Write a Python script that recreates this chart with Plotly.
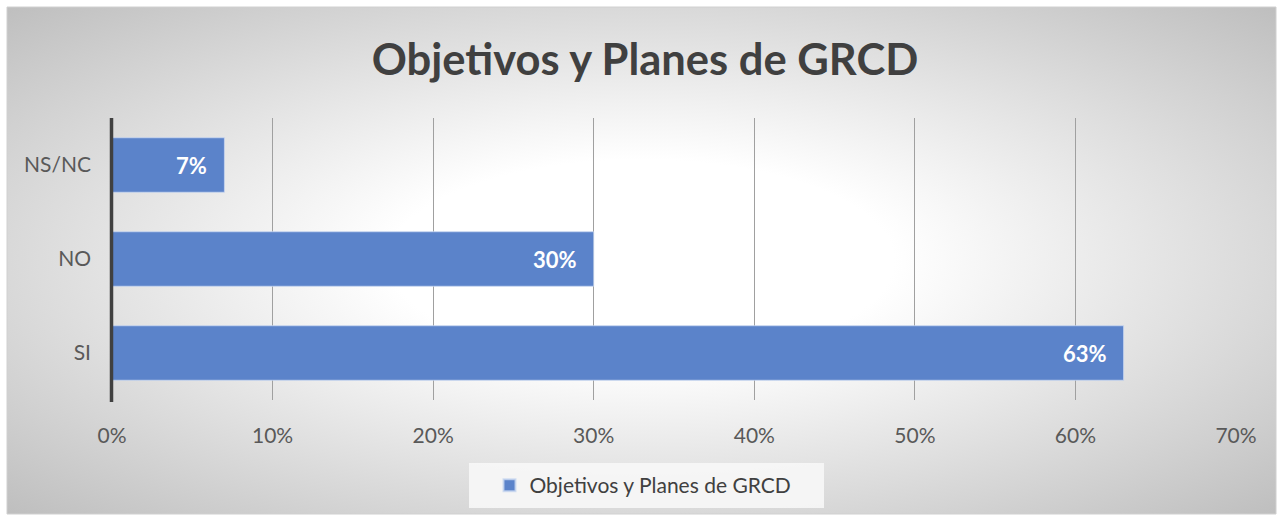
import base64
import plotly.graph_objects as go

categories = ["SI", "NO", "NS/NC"]
values = [63, 30, 7]
labels = ["63%", "30%", "7%"]
tick_vals = [0, 10, 20, 30, 40, 50, 60, 70]
tick_text = ["0%", "10%", "20%", "30%", "40%", "50%", "60%", "70%"]
series_name = "Objetivos y Planes de GRCD"
title_text = "Objetivos y Planes de GRCD"

FONT = "Lato, 'Open Sans', sans-serif"

svg = (
    '<svg xmlns="http://www.w3.org/2000/svg" width="1269" height="507" preserveAspectRatio="none" viewBox="0 0 1269 507">'
    '<defs><radialGradient id="g" cx="50%" cy="50%" r="71%">'
    '<stop offset="0" stop-color="#ffffff"/>'
    '<stop offset="0.28" stop-color="#ffffff"/>'
    '<stop offset="1" stop-color="#bebebe"/>'
    '</radialGradient></defs>'
    '<rect x="0" y="0" width="1269" height="507" fill="url(#g)"/>'
    '</svg>'
)
src = "data:image/svg+xml;base64," + base64.b64encode(svg.encode()).decode()

fig = go.Figure()
fig.add_trace(go.Bar(
    y=categories, x=values, orientation="h", name=series_name,
    marker=dict(color="#5B83CA", line=dict(color="rgba(200,215,240,0.8)", width=1)),
    width=0.58,
))

for c, v, t in zip(categories, values, labels):
    fig.add_annotation(x=v, y=c, text=f"<b>{t}</b>", showarrow=False,
                       xanchor="right", xshift=-15,
                       font=dict(family=FONT, size=22, color="white"))

L, R, T, B = 112, 47, 118, 121
W, H = 1283, 521
pw, ph = W - L - R, H - T - B
def px(x): return (x - L) / pw
def py(y): return (H - B - y) / ph

fig.add_layout_image(dict(source=src, xref="paper", yref="paper",
                          x=px(7), y=py(7), sizex=px(1276) - px(7), sizey=py(7) - py(514),
                          xanchor="left", yanchor="top", sizing="stretch", layer="below"))
fig.add_shape(type="rect", xref="paper", yref="paper",
              x0=px(7), x1=px(1276), y0=py(514), y1=py(7),
              line=dict(color="#d0d0d0", width=1), layer="below")
# legend box
fig.add_shape(type="rect", xref="paper", yref="paper",
              x0=px(469), x1=px(824), y0=py(508), y1=py(463),
              line=dict(width=0), fillcolor="rgba(247,247,247,0.9)", layer="below")
# left axis line extends slightly below plot
fig.add_shape(type="line", xref="paper", yref="paper", x0=px(111.5), x1=px(111.5),
              y0=py(402), y1=1,
              line=dict(color="#404040", width=3.5), layer="above")

fig.update_layout(
    width=W, height=H,
    margin=dict(l=L, r=R, t=T, b=B),
    paper_bgcolor="white", plot_bgcolor="rgba(0,0,0,0)",
    title=dict(text=f"<b>{title_text}</b>", x=px(645), xanchor="center", xref="paper",
               y=1 - 60 / H, yref="container", yanchor="middle",
               font=dict(family=FONT, size=43.5, color="#404040")),
    xaxis=dict(range=[0, 70], tickvals=tick_vals, ticktext=tick_text,
               showgrid=True, gridcolor="#a0a0a0", gridwidth=1,
               zeroline=False, showline=False, ticks="",
               tickfont=dict(family=FONT, size=21, color="#595959"),
               ticklabelstandoff=21, fixedrange=True),
    yaxis=dict(range=[-0.5, 2.5], categoryorder="array", categoryarray=categories,
               showgrid=False, zeroline=False, showline=False, ticks="",
               tickfont=dict(family=FONT, size=21, color="#595959"),
               ticklabelstandoff=20, fixedrange=True),
    showlegend=True,
    legend=dict(orientation="h", x=px(643), xanchor="center", y=py(485.5), yanchor="middle",
                bgcolor="rgba(0,0,0,0)", borderwidth=0,
                font=dict(family=FONT, size=21, color="#404040"),
                itemsizing="constant"),
    bargap=0.42,
)

fig.write_html("out.html", post_script="document.body.style.margin='0px';",
               config={"displayModeBar": False})
